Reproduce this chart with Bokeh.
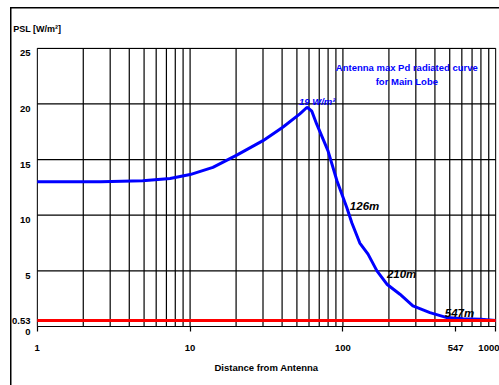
from bokeh.plotting import figure
from bokeh.models import FixedTicker, Label, LinearAxis, LogAxis, Range1d
from bokeh.embed import file_html
from bokeh.resources import INLINE

# ---- data ----
distance_m = [1, 2.6, 4.9, 7.4, 10, 14.1, 20.2, 30, 40.4, 52.3, 58.3, 62.6, 67.3, 79.8, 91.4,
              106, 114.5, 129, 146, 167, 194, 236, 287, 371, 479, 608, 800, 1000]
psl_w_m2 = [13.0, 13.0, 13.1, 13.3, 13.65, 14.3, 15.4, 16.7, 17.9, 19.1, 19.7, 19.35, 18.2, 15.8, 13.1,
            10.7, 9.3, 7.5, 6.5, 5.0, 3.8, 2.9, 1.85, 1.25, 0.8, 0.7, 0.65, 0.55]
limit_x = [1, 1000]
limit_psl = [0.53, 0.53]

x_ticks = [1, 10, 100, 547, 1000]
y_ticks = [0, 0.53, 5, 10, 15, 20, 25]
x_grid = [m * 10 ** e for e in range(3) for m in range(1, 10)] + [1000]
y_grid = [0, 5, 10, 15, 20, 25]
y_title = "PSL [W/m²]"

FONT = "Liberation Sans"
LABEL_SHIFT = 0.45   # y tick labels sit a little below their grid line

p = figure(width=499, height=385, x_axis_type="log",
           x_range=(10 ** -0.005, 10 ** 3.005), y_range=(-LABEL_SHIFT, 25.07),
           y_axis_location=None, output_backend="svg", toolbar_location=None,
           min_border_left=36, min_border_right=3, min_border_top=47, min_border_bottom=54)
p.title.visible = False
p.background_fill_color = "white"
p.border_fill_color = None
p.outline_line_color = None
p.styles = {"background": "linear-gradient(#000,#000) 10px 7px / 1.5px 100% no-repeat, "
                          "linear-gradient(#000,#000) 10px 7px / 100% 1.5px no-repeat, #fff"}
p.grid.visible = False

# grid drawn from the tick lists
p.segment(x0=x_grid, y0=[y_grid[0]] * len(x_grid), x1=x_grid, y1=[y_grid[-1]] * len(x_grid),
          line_color="black", line_width=1.2)
p.segment(x0=[x_grid[0]] * len(y_grid), y0=y_grid, x1=[x_grid[-1]] * len(y_grid), y1=y_grid,
          line_color="black", line_width=1.2)

# x axis
ax = p.xaxis[0]
ax.ticker = FixedTicker(ticks=x_ticks)
ax.major_label_overrides = {t: str(t) for t in x_ticks}
ax.minor_tick_line_color = None
ax.major_tick_out = 0
ax.major_tick_in = 5
ax.major_tick_line_color = "black"
ax.major_tick_line_width = 1.2
ax.axis_line_color = None
ax.major_label_standoff = 13
ax.major_label_text_font = FONT
ax.major_label_text_font_style = "bold"
ax.major_label_text_font_size = "9.5px"
ax.major_label_text_color = "black"
ax.axis_label = "Distance from Antenna"
ax.axis_label_text_font = FONT
ax.axis_label_text_font_style = "bold"
ax.axis_label_text_font_size = "9.5px"
ax.axis_label_text_color = "black"
ax.axis_label_standoff = 8

# y tick labels (0.53 stays on its line, the others sit just below theirs)
p.extra_y_ranges = {"labels": Range1d(0, 25.07 + LABEL_SHIFT)}
label_pos = [round(t + LABEL_SHIFT, 4) if t == 0.53 else t for t in y_ticks]
yax = LinearAxis(y_range_name="labels", ticker=FixedTicker(ticks=label_pos),
                 major_label_overrides={lp: str(t) for lp, t in zip(label_pos, y_ticks)},
                 axis_line_color=None, major_tick_line_color=None, minor_tick_line_color=None,
                 major_tick_in=0, major_tick_out=0, major_label_standoff=6,
                 major_label_text_font=FONT, major_label_text_font_style="bold",
                 major_label_text_font_size="9.5px", major_label_text_color="black")
p.add_layout(yax, "left")

# y axis title, above the top-left corner of the grid
tax = LogAxis(ticker=FixedTicker(ticks=[x_ticks[0]]),
              major_label_overrides={x_ticks[0]: y_title},
              axis_line_color=None, major_tick_line_color=None, minor_tick_line_color=None,
              major_tick_in=0, major_tick_out=0, major_label_standoff=14,
              major_label_text_font=FONT, major_label_text_font_style="bold",
              major_label_text_font_size="9px", major_label_text_color="black")
p.add_layout(tax, "above")

# curves
p.line(distance_m, psl_w_m2, line_color="#0000ff", line_width=3)
p.line(limit_x, limit_psl, line_color="#ff0000", line_width=3)

# annotations
p.add_layout(Label(x=262, y=23.3, text="Antenna max Pd radiated curve", text_align="center",
                   text_baseline="middle", text_font=FONT, text_font_style="bold",
                   text_font_size="9.5px", text_color="#0000ff"))
p.add_layout(Label(x=262, y=22.05, text="for Main Lobe", text_align="center",
                   text_baseline="middle", text_font=FONT, text_font_style="bold",
                   text_font_size="9.5px", text_color="#0000ff"))
p.add_layout(Label(x=51.6, y=20.2, text="19 W/m²", text_align="left",
                   text_baseline="middle", text_font=FONT, text_font_style="bold italic",
                   text_font_size="9.5px", text_color="#0000ff"))
p.add_layout(Label(x=111, y=10.85, text="126m", text_align="left",
                   text_baseline="middle", text_font=FONT, text_font_style="bold italic",
                   text_font_size="11.5px", text_color="black"))
p.add_layout(Label(x=194, y=4.7, text="210m", text_align="left",
                   text_baseline="middle", text_font=FONT, text_font_style="bold italic",
                   text_font_size="11.5px", text_color="black"))
p.add_layout(Label(x=464, y=1.24, text="547m", text_align="left",
                   text_baseline="middle", text_font=FONT, text_font_style="bold italic",
                   text_font_size="11.5px", text_color="black"))

open("out.html", "w").write(file_html(p, INLINE))
